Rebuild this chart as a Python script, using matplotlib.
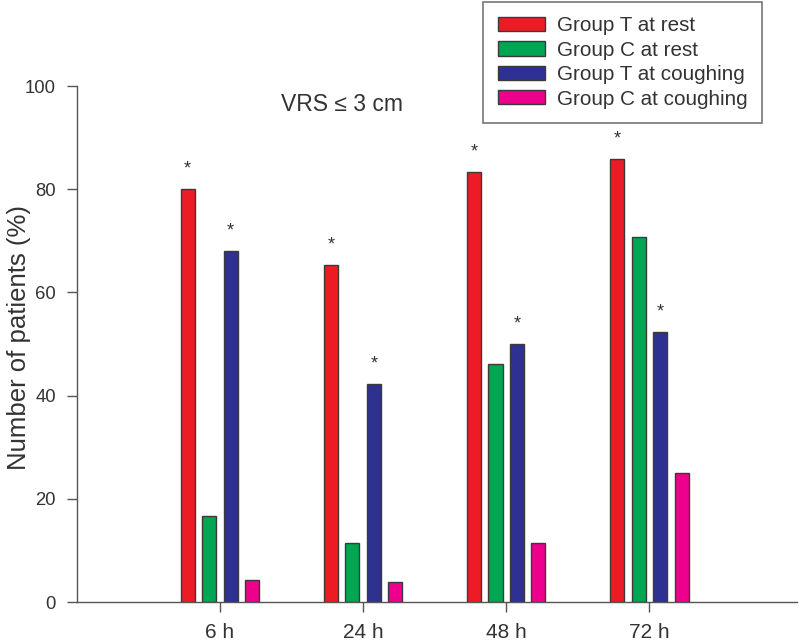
import numpy as np
import matplotlib
matplotlib.use('Agg')
import matplotlib.pyplot as plt

plt.rcParams['font.family'] = ['Liberation Sans', 'DejaVu Sans']

times = ['6 h', '24 h', '48 h', '72 h']
t_rest = [80.0, 65.3, 83.3, 85.8]
c_rest = [16.7, 11.5, 46.2, 70.8]
t_cough = [68.0, 42.3, 50.0, 52.4]
c_cough = [4.2, 3.8, 11.5, 25.0]
series = [t_rest, c_rest, t_cough, c_cough]
names = ['Group T at rest', 'Group C at rest', 'Group T at coughing', 'Group C at coughing']
colors = ['#ED1C24', '#00A651', '#2E3192', '#EC008C']
# which series get a star
starred = [True, False, True, False]

fig = plt.figure(figsize=(8, 6.42), dpi=100)
ax = fig.add_axes([0.096, 0.0623, 0.9, 0.8037])

x = np.arange(1, len(times) + 1)
step = 0.15
width = 0.098
for i, vals in enumerate(series):
    pos = x + (i - 1.5) * step
    ax.bar(pos, vals, width, color=colors[i], edgecolor='#3a3a3a', linewidth=1.0, label=names[i])
    if starred[i]:
        for p, v in zip(pos, vals):
            ax.text(p, v + 2.2, '*', ha='center', va='bottom', fontsize=13, color='#333333')

ax.set_xlim(0, 5.03)
ax.set_ylim(0, 100)
ax.set_xticks(x)
ax.set_xticklabels(times)
ax.set_yticks([0, 20, 40, 60, 80, 100])
ax.spines['top'].set_visible(False)
ax.spines['right'].set_visible(False)
for s in ['left', 'bottom']:
    ax.spines[s].set_color('#555555')
    ax.spines[s].set_linewidth(1.0)
ax.tick_params(axis='both', colors='#555555', labelcolor='#333333', length=7, width=1)
ax.tick_params(axis='x', pad=8, labelsize=15)
ax.tick_params(axis='y', pad=8, labelsize=13.3)
ax.set_ylabel('Number of patients (%)', fontsize=18.5, color='#333333')
ax.yaxis.set_label_coords(-0.064, 0.512)

ax.text(1.85, 96.5, 'VRS ≤ 3 cm', ha='center', va='center', fontsize=16.5, color='#333333')

leg = fig.legend(loc='upper left', bbox_to_anchor=(0.604, 0.997), fontsize=14.9,
                 frameon=True, fancybox=False, handlelength=2.3, handleheight=0.68,
                 labelspacing=0.26, borderpad=0.7, handletextpad=0.55, borderaxespad=0)
leg.get_frame().set_edgecolor('#555555')
leg.get_frame().set_linewidth(1.2)
for t in leg.get_texts():
    t.set_color('#333333')

fig.savefig('out.png', dpi=100)
